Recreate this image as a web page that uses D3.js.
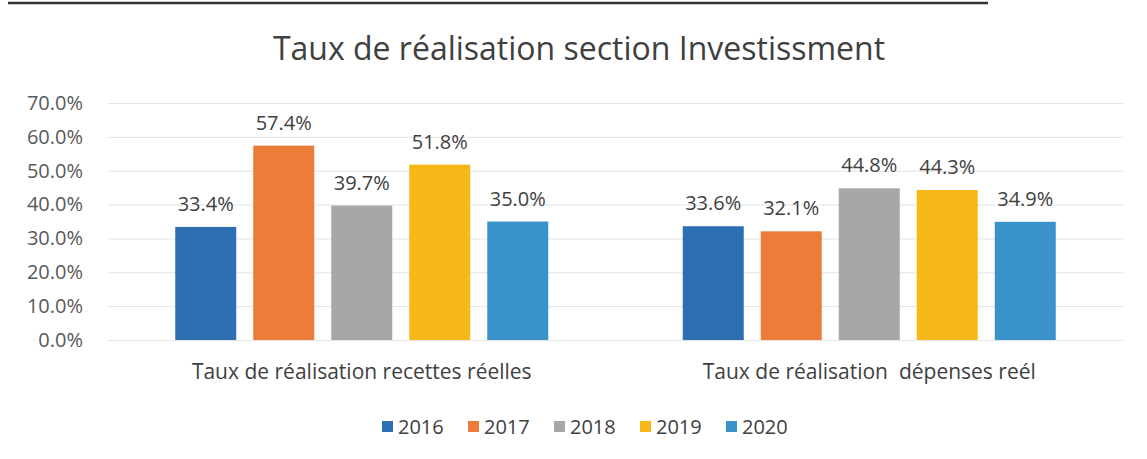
<!DOCTYPE html>
<html>
<head>
<meta charset="utf-8">
<script src="https://cdn.jsdelivr.net/npm/d3@7"></script>
<style>
  body { margin: 0; background: #fff; }
  text { font-family: "Open Sans", sans-serif; }
</style>
</head>
<body>
<div id="chart"></div>
<script>
/* Taux de réalisation section Investissement - grouped bars */

const categories = ["Taux de réalisation recettes réelles", "Taux de réalisation  dépenses reél"];
const years = ["2016", "2017", "2018", "2019", "2020"];
const values2016 = [33.4, 33.6];
const values2017 = [57.4, 32.1];
const values2018 = [39.7, 44.8];
const values2019 = [51.8, 44.3];
const values2020 = [35.0, 34.9];
const yTicks = [0, 10, 20, 30, 40, 50, 60, 70];
const colors = ["#2e6fb3", "#ec7d38", "#a7a7a7", "#f6b919", "#3a92cb"];

const series = [values2016, values2017, values2018, values2019, values2020];

const width = 1147, height = 459,
      margin = ({top: 103, right: 24, bottom: 119, left: 108});

let svg = d3.select("#chart")
    .append("svg")
    .attr("width", width)
    .attr("height", height)
    .attr("viewBox", [0, 0, width, height]);

// scanned frame edge at the top
svg.append("line")
    .attr("x1", 8).attr("x2", 988)
    .attr("y1", 3).attr("y2", 3)
    .attr("stroke", "#333")
    .attr("stroke-width", 2.5);

let x0 = d3.scaleBand()
    .domain(categories)
    .range([margin.left, width - margin.right]);

let x1 = d3.scaleBand()
    .domain(years)
    .range([0, x0.bandwidth()])
    .paddingInner(0.218)
    .paddingOuter(0.862);

let y = d3.scaleLinear()
    .domain([0, 70])
    .range([height - margin.bottom, margin.top]);

// grid lines
svg.append("g")
    .selectAll("line")
    .data(yTicks)
    .join("line")
    .attr("x1", margin.left)
    .attr("x2", width - margin.right)
    .attr("y1", d => y(d) + 0.5)
    .attr("y2", d => y(d) + 0.5)
    .attr("stroke", "#e3e3e3")
    .attr("stroke-width", 1);

// y axis labels
const yAxis = g => g
    .attr("transform", `translate(${margin.left - 22},0)`)
    .call(d3.axisLeft(y).tickValues(yTicks).tickFormat(d => d.toFixed(1) + "%").tickSize(0))
    .call(g => g.select(".domain").remove())
    .call(g => g.selectAll("text")
        .attr("fill", "#595959")
        .attr("font-size", 20)
        .attr("font-family", "'Open Sans', sans-serif"));

svg.append("g").call(yAxis);

// x axis labels
const xAxis = g => g
    .attr("transform", `translate(0,${height - margin.bottom})`)
    .call(d3.axisBottom(x0).tickSize(0).tickPadding(24))
    .call(g => g.select(".domain").remove())
    .call(g => g.selectAll("text")
        .attr("fill", "#404040")
        .attr("font-size", 21)
        .attr("font-family", "'Open Sans', sans-serif")
        .style("white-space", "pre"));

svg.append("g").call(xAxis);

// bars
let group = svg.selectAll(".group")
    .data(categories)
    .join("g")
    .attr("class", "group")
    .attr("transform", d => `translate(${x0(d)},0)`);

let bar = group.selectAll(".bar")
    .data((c, i) => years.map((yr, j) => ({year: yr, value: series[j][i], color: colors[j]})))
    .join("g")
    .attr("class", "bar");

bar.append("rect")
    .attr("x", d => x1(d.year))
    .attr("width", x1.bandwidth())
    .attr("y", d => y(d.value))
    .attr("height", d => y(0) - y(d.value))
    .attr("fill", d => d.color);

bar.append("text")
    .attr("x", d => x1(d.year) + x1.bandwidth() / 2)
    .attr("y", d => y(d.value) - 16)
    .attr("text-anchor", "middle")
    .attr("font-size", 20)
    .attr("fill", "#404040")
    .text(d => d.value.toFixed(1) + "%");

// title
svg.append("text")
    .attr("x", 579)
    .attr("y", 60)
    .attr("text-anchor", "middle")
    .attr("font-size", 32)
    .attr("fill", "#404040")
    .text("Taux de réalisation section Investissment");

// legend
let legend = svg.append("g")
    .selectAll("g")
    .data(years)
    .join("g")
    .attr("transform", (d, i) => `translate(${382 + i * 86},427)`);

legend.append("rect")
    .attr("x", 0)
    .attr("y", -6)
    .attr("width", 11)
    .attr("height", 11)
    .attr("fill", (d, i) => colors[i]);

legend.append("text")
    .attr("x", 16)
    .attr("y", 7)
    .attr("font-size", 20)
    .attr("fill", "#404040")
    .text(d => d);
</script>
</body>
</html>
